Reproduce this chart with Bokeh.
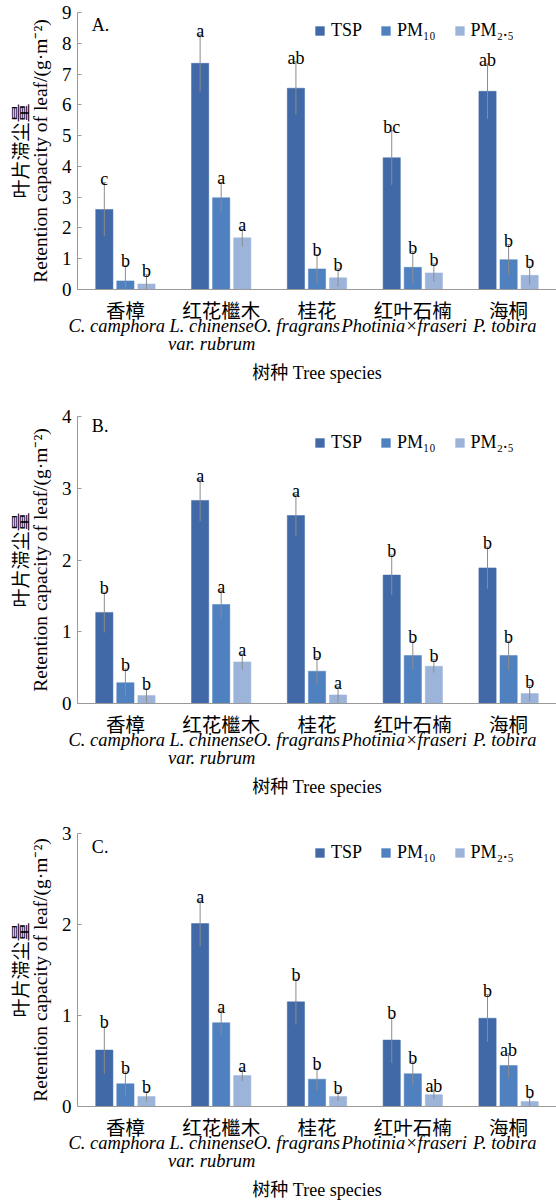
from bokeh.plotting import figure
from bokeh.models import (Range1d, FixedTicker, LinearAxis, AllLabels,
                          Label, Legend, LegendItem, ColumnDataSource)
from bokeh.transform import dodge
from bokeh.layouts import column
from bokeh.embed import file_html
from bokeh.resources import INLINE
from bokeh.core.properties import value

# ---------------- data ----------------
species_cn = ["香樟", "红花檵木", "桂花", "红叶石楠", "海桐"]
species_latin = ["C. camphora", "L. chinense\nvar. rubrum", "O. fragrans", "Photinia×fraseri", "P. tobira"]
series_names = ["TSP", "PM₁₀", "PM₂.₅"]

# Panel A
a_tsp = [2.60, 7.35, 6.54, 4.28, 6.44]
a_tsp_err = [0.87, 0.92, 0.86, 0.88, 0.89]
a_pm10 = [0.28, 2.98, 0.67, 0.72, 0.97]
a_pm10_err = [0.50, 0.50, 0.47, 0.51, 0.49]
a_pm25 = [0.18, 1.68, 0.38, 0.54, 0.46]
a_pm25_err = [0.30, 0.28, 0.29, 0.29, 0.30]
a_tsp_sig = ["c", "a", "ab", "bc", "ab"]
a_pm10_sig = ["b", "a", "b", "b", "b"]
a_pm25_sig = ["b", "a", "b", "b", "b"]

# Panel B
b_tsp = [1.27, 2.83, 2.62, 1.79, 1.89]
b_tsp_err = [0.28, 0.29, 0.29, 0.28, 0.29]
b_pm10 = [0.29, 1.38, 0.45, 0.67, 0.67]
b_pm10_err = [0.19, 0.19, 0.19, 0.20, 0.20]
b_pm25 = [0.11, 0.58, 0.12, 0.52, 0.14]
b_pm25_err = [0.10, 0.11, 0.11, 0.09, 0.11]
b_tsp_sig = ["b", "a", "a", "b", "b"]
b_pm10_sig = ["b", "a", "b", "b", "b"]
b_pm25_sig = ["b", "a", "a", "b", "b"]

# Panel C
c_tsp = [0.62, 2.01, 1.15, 0.73, 0.97]
c_tsp_err = [0.26, 0.25, 0.25, 0.25, 0.26]
c_pm10 = [0.25, 0.92, 0.30, 0.36, 0.45]
c_pm10_err = [0.13, 0.13, 0.12, 0.13, 0.13]
c_pm25 = [0.11, 0.34, 0.11, 0.13, 0.055]
c_pm25_err = [0.055, 0.06, 0.05, 0.05, 0.055]
c_tsp_sig = ["b", "a", "b", "b", "b"]
c_pm10_sig = ["b", "a", "b", "b", "ab"]
c_pm25_sig = ["b", "a", "b", "ab", "b"]

# ---------------- style ----------------
COLORS = ["#4169a8", "#4f80bf", "#9db4da"]
OFFSETS = [-0.22, 0.0, 0.22]
LATIN_SHIFT = [-0.09, -0.10, -0.21, -0.09, -0.04]   # label nudges (category units)
SERIF = "Liberation Serif"
CJK = "Noto Sans CJK SC"
MIX = "'Liberation Serif', 'Noto Sans CJK SC'"
AXIS_GRAY = "#9a9a9a"
ERR_GRAY = "#8c8c8c"
TXT = "#000000"

N = len(species_cn)
cat_pos = [i + 0.5 for i in range(N)]          # slot centres of the species


def make_panel(tag, ymax, series, errs, sigs, height, top_border, frame_h, legend_y, tag_y):
    p = figure(x_range=Range1d(0, N), y_range=Range1d(0, ymax),
               width=556, height=height,
               min_border_left=77, min_border_right=0, min_border_top=top_border,
               min_border_bottom=height - top_border - frame_h,
               output_backend="svg", toolbar_location=None)
    p.outline_line_color = None
    p.xgrid.visible = False
    p.ygrid.visible = False
    p.background_fill_color = None
    p.border_fill_color = None

    items = []
    for i in range(3):
        vals = series[i]
        err = errs[i]
        src = ColumnDataSource(dict(pos=cat_pos, v=vals,
                                    up=[v + e for v, e in zip(vals, err)],
                                    lo=[max(0.0, v - e) for v, e in zip(vals, err)],
                                    sig=sigs[i]))
        xd = dodge("pos", OFFSETS[i])
        r = p.vbar(x=xd, top="v", width=0.18, source=src,
                   fill_color=COLORS[i], line_color=COLORS[i], line_width=0.5)
        p.segment(x0=xd, y0="lo", x1=xd, y1="up", source=src,
                  line_color=ERR_GRAY, line_width=1)
        p.scatter(x=xd, y="up", source=src, marker="dash", size=4,
                  line_color=ERR_GRAY, line_width=1)
        p.text(x=xd, y="up", text="sig", source=src,
               text_font=value(SERIF), text_font_size="18px",
               text_align="center", text_baseline="alphabetic",
               y_offset=-4, text_color=TXT)
        items.append(LegendItem(label=series_names[i], renderers=[r]))

    legend = Legend(items=items, orientation="horizontal",
                    location=(237, legend_y),
                    label_text_font=SERIF, label_text_font_size="18px",
                    label_text_color=TXT,
                    glyph_width=11, glyph_height=11, label_standoff=6,
                    spacing=18, padding=0, margin=0,
                    border_line_color=None, background_fill_alpha=0)
    p.add_layout(legend)

    p.add_layout(Label(x=0.15, y=tag_y, text=tag, text_font=SERIF,
                       text_font_size="18px", text_baseline="middle",
                       text_color=TXT))

    # y axis
    ya = p.yaxis[0]
    ya.ticker = FixedTicker(ticks=list(range(0, int(ymax) + 1)))
    ya.minor_tick_line_color = None
    ya.major_tick_in = 4
    ya.major_tick_out = 0
    ya.major_tick_line_color = AXIS_GRAY
    ya.axis_line_color = AXIS_GRAY
    ya.major_label_text_font = SERIF
    ya.major_label_text_font_size = "19px"
    ya.major_label_text_color = TXT
    ya.major_label_standoff = 6
    ya.axis_label = "Retention capacity of leaf/(g·m⁻²)"
    ya.axis_label_text_font = SERIF
    ya.axis_label_text_font_style = "normal"
    ya.axis_label_text_font_size = "19.5px"
    ya.axis_label_text_color = TXT
    ya.axis_label_standoff = 8

    ya2 = LinearAxis(ticker=FixedTicker(ticks=[]), axis_line_color=None,
                     major_tick_line_color=None, minor_tick_line_color=None,
                     axis_label="叶片滞尘量", axis_label_text_font=CJK,
                     axis_label_text_font_style="normal",
                     axis_label_text_font_size="19px",
                     axis_label_text_color=TXT,
                     axis_label_standoff=-6)
    p.add_layout(ya2, "left")

    # x axis (Chinese names)
    xa = p.xaxis[0]
    xa.ticker = FixedTicker(ticks=cat_pos, minor_ticks=[])
    xa.major_label_overrides = dict(zip(cat_pos, species_cn))
    xa.major_label_policy = AllLabels()
    xa.axis_line_color = AXIS_GRAY
    xa.major_tick_line_color = None
    xa.minor_tick_line_color = None
    xa.major_label_text_font = MIX
    xa.major_label_text_font_size = "19.5px"
    xa.major_label_text_color = TXT
    xa.major_label_standoff = 5

    # second x axis (Latin names) + title
    latin_ticks = [c + s for c, s in zip(cat_pos, LATIN_SHIFT)]
    xa2 = LinearAxis(ticker=FixedTicker(ticks=latin_ticks, minor_ticks=[]),
                     major_label_overrides=dict(zip(latin_ticks, species_latin)),
                     major_label_policy=AllLabels(),
                     axis_line_color=None, major_tick_line_color=None,
                     minor_tick_line_color=None,
                     major_label_text_font=SERIF,
                     major_label_text_font_style="italic",
                     major_label_text_font_size="18.5px",
                     major_label_text_line_height=0.9,
                     major_label_text_color=TXT,
                     major_label_standoff=-15,
                     axis_label="树种 Tree species",
                     axis_label_text_font=MIX,
                     axis_label_text_font_style="normal",
                     axis_label_text_font_size="18px",
                     axis_label_text_color=TXT,
                     axis_label_standoff=6)
    p.add_layout(xa2, "below")
    return p


pA = make_panel("A.", 9, [a_tsp, a_pm10, a_pm25], [a_tsp_err, a_pm10_err, a_pm25_err],
                [a_tsp_sig, a_pm10_sig, a_pm25_sig], 400, 12, 277, 248, 8.58)
pB = make_panel("B.", 4, [b_tsp, b_pm10, b_pm25], [b_tsp_err, b_pm10_err, b_pm25_err],
                [b_tsp_sig, b_pm10_sig, b_pm25_sig], 403, 16, 287, 250, 3.87)
pC = make_panel("C.", 3, [c_tsp, c_pm10, c_pm25], [c_tsp_err, c_pm10_err, c_pm25_err],
                [c_tsp_sig, c_pm10_sig, c_pm25_sig], 400, 30, 273, 243, 2.85)

layout = column(pA, pB, pC, spacing=0)
open("out.html", "w").write(file_html(layout, INLINE))
